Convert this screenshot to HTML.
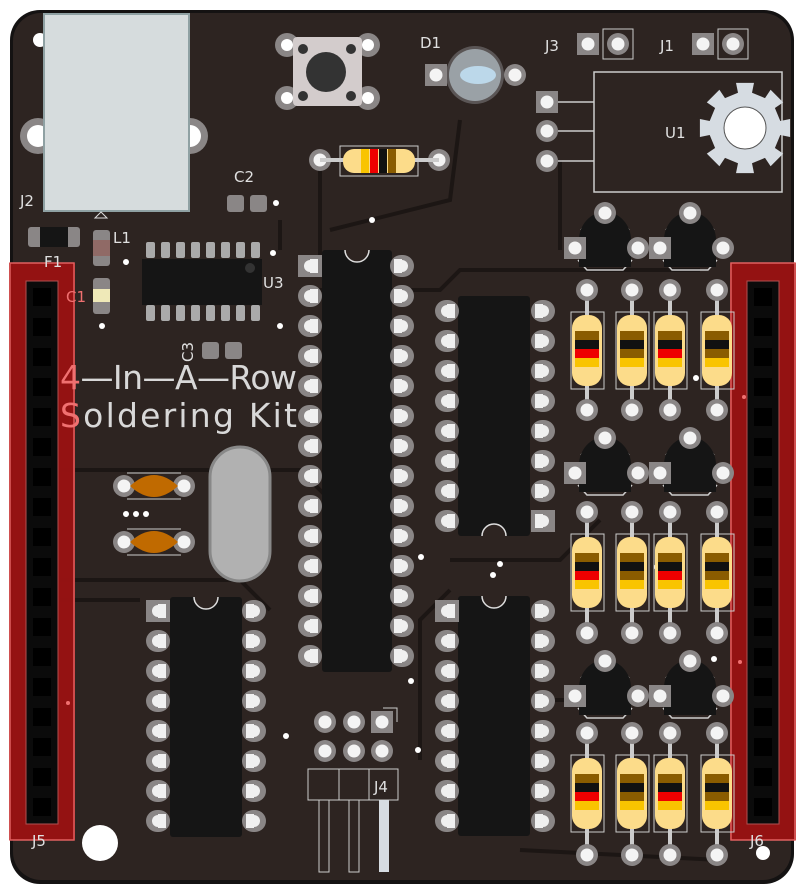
<!DOCTYPE html>
<html><head><meta charset="utf-8"><style>
html,body{margin:0;padding:0;background:#fff;}
svg{display:block;}
text{font-family:"DejaVu Sans","Liberation Sans",sans-serif;}
</style></head><body>
<svg id="s" width="804" height="894" viewBox="0 0 804 894" xmlns="http://www.w3.org/2000/svg">
<rect x="10" y="10" width="784" height="874" rx="30" fill="#141212"/>
<rect x="13" y="13" width="778" height="867" rx="28" fill="#2d2421"/>
<g id="g"></g>
<g fill="#e0e0e0" font-size="15">
<text x="20" y="206">J2</text>
<text x="44" y="267">F1</text>
<text x="113" y="243">L1</text>
<text x="66" y="302" fill="#f07070">C1</text>
<text x="234" y="182">C2</text>
<text x="263" y="288">U3</text>
<text x="193" y="362" transform="rotate(-90 193 362)">C3</text>
<text x="420" y="48">D1</text>
<text x="545" y="51">J3</text>
<text x="660" y="51">J1</text>
<text x="665" y="138">U1</text>
<text x="374" y="792">J4</text>
<text x="32" y="846">J5</text>
<text x="750" y="846">J6</text>
</g>
<g font-size="33" fill="#d8d8d8">
<text x="60" y="389" textLength="237"><tspan fill="#f07070">4</tspan>—In—A—Row</text>
<text x="60" y="427" textLength="237"><tspan fill="#f07070">S</tspan>oldering Kit</text>
</g>
</svg>
<script>
var o='';
function pad(x,y,sq){ if(sq) o+=`<rect x="${x-11}" y="${y-11}" width="22" height="22" fill="#8a8686"/>`; else o+=`<circle cx="${x}" cy="${y}" r="11" fill="#8a8686"/>`; o+=`<circle cx="${x}" cy="${y}" r="6.5" fill="#f4f4f4"/>`;}
function dpad(x,y,dir,sq){
 if(sq) o+=`<rect x="${x-12}" y="${y-11}" width="24" height="22" fill="#8a8686"/>`;
 else o+=`<rect x="${x-12}" y="${y-11}" width="24" height="22" rx="11" fill="#8a8686"/>`;
 o+=`<rect x="${dir>0?x:x-8}" y="${y-7}" width="8" height="14" fill="#f0f0f0"/><circle cx="${x}" cy="${y}" r="6" fill="#f0f0f0"/>`;}
function dip(x1,x2,y0,n,bx,bw,by,bh,notchTop){
 o+=`<rect x="${bx}" y="${by}" width="${bw}" height="${bh}" rx="3" fill="#151515"/>`;
 for(let i=0;i<n;i++){dpad(x1,y0+i*30,1,notchTop&&i==0);dpad(x2,y0+i*30,-1,!notchTop&&i==n-1);}
 let cx=bx+bw/2, ny=notchTop?by:by+bh;
 o+=`<path d="M${cx-12} ${ny} a12 12 0 0 ${notchTop?0:1} 24 0" fill="#2d2421" stroke="#ddd" stroke-width="1.5"/>`;
}
o+=`<g stroke="#1c1614" stroke-width="4" fill="none">
<path d="M60 470 L300 470 L330 500"/><path d="M60 580 L240 580 L270 610"/><path d="M60 600 L140 600"/>
<path d="M300 290 L440 290 L460 270 L700 270"/><path d="M450 560 L560 560 L600 520"/><path d="M420 760 L420 620 L450 590"/>
<path d="M540 700 L720 700"/><path d="M520 850 L720 860"/><path d="M460 120 L450 200 L330 230"/>
<path d="M560 160 L560 250"/><path d="M320 170 L320 260"/><path d="M280 250 L280 220"/>
</g>`;
o+=`<circle cx="38" cy="136" r="18" fill="#8a8686"/><circle cx="38" cy="136" r="11" fill="#fff"/>`;
o+=`<circle cx="190" cy="136" r="18" fill="#8a8686"/><circle cx="190" cy="136" r="11" fill="#fff"/>`;
o+=`<circle cx="40" cy="40" r="7" fill="#fff"/>`;
o+=`<rect x="44" y="14" width="145" height="197" fill="#d6dcdd" stroke="#8fa1a3" stroke-width="2"/>`;
o+=`<path d="M95 218 L101 212 L107 218 Z" fill="none" stroke="#ddd"/>`;
o+=`<rect x="28" y="227" width="52" height="20" rx="3" fill="#8a8686"/><rect x="40" y="227" width="28" height="20" fill="#151515"/>`;
o+=`<rect x="93" y="230" width="17" height="36" rx="3" fill="#8a8686"/><rect x="93" y="240" width="17" height="16" fill="#906a66"/>`;
o+=`<rect x="93" y="278" width="17" height="36" rx="3" fill="#8a8686"/><rect x="93" y="289" width="17" height="13" fill="#efe9b8"/>`;
o+=`<rect x="227" y="195" width="17" height="17" rx="3" fill="#8a8686"/><rect x="250" y="195" width="17" height="17" rx="3" fill="#8a8686"/>`;
o+=`<rect x="202" y="342" width="17" height="17" rx="3" fill="#8a8686"/><rect x="225" y="342" width="17" height="17" rx="3" fill="#8a8686"/>`;
for(let i=0;i<8;i++){let x=150+i*15;o+=`<rect x="${x-4}" y="242" width="9" height="16" rx="2" fill="#aaa"/><rect x="${x-4}" y="305" width="9" height="16" rx="2" fill="#aaa"/>`;}
o+=`<rect x="142" y="259" width="120" height="46" fill="#151515"/><circle cx="250" cy="268" r="5" fill="#333"/>`;
[[276,203],[126,262],[102,326],[372,220],[280,326],[273,253],[126,514],[136,514],[146,514],[421,557],[493,575],[500,564],[696,378],[657,567],[411,681],[286,736],[418,750],[714,659]].forEach(v=>o+=`<circle cx="${v[0]}" cy="${v[1]}" r="3" fill="#fff"/>`);
[[287,45],[368,45],[287,98],[368,98]].forEach(p=>{o+=`<circle cx="${p[0]}" cy="${p[1]}" r="12" fill="#8a8686"/><circle cx="${p[0]}" cy="${p[1]}" r="6" fill="#fff"/>`;});
o+=`<rect x="293" y="37" width="69" height="69" rx="4" fill="#d3cccc"/><circle cx="326" cy="72" r="20" fill="#333"/>`;
[[303,49],[351,49],[303,96],[351,96]].forEach(p=>o+=`<circle cx="${p[0]}" cy="${p[1]}" r="5" fill="#333"/>`);
o+=`<rect x="430" y="65" width="90" height="20" fill="#2d2421"/>`;
o+=`<circle cx="475" cy="75" r="29" fill="#5a5555"/><circle cx="475" cy="75" r="26" fill="#9aa1a6"/><ellipse cx="478" cy="75" rx="18" ry="9" fill="#bcd8ea"/>`;
pad(436,75,1);pad(515,75);
pad(320,160);pad(439,160);o+=`<line x1="320" y1="160" x2="439" y2="160" stroke="#ccc" stroke-width="4"/>`;
o+=`<rect x="340" y="146" width="78" height="30" fill="none" stroke="#ccc"/><rect x="343" y="149" width="72" height="24" rx="11" fill="#fcdc8a"/>`;
[[361,'#f9c400'],[370,'#e00'],[379,'#111'],[388,'#8a5c00']].forEach(b=>o+=`<rect x="${b[0]}" y="149" width="8" height="24" fill="${b[1]}"/>`);
pad(588,44,1);pad(618,44);o+=`<rect x="603" y="29" width="30" height="30" fill="none" stroke="#ccc"/>`;
pad(703,44,1);pad(733,44);o+=`<rect x="718" y="29" width="30" height="30" fill="none" stroke="#ccc"/>`;
o+=`<rect x="594" y="72" width="188" height="120" fill="none" stroke="#ccc" stroke-width="1.5"/>`;
pad(547,102,1);pad(547,131);pad(547,161);
[102,131,161].forEach(y=>o+=`<line x1="558" y1="${y}" x2="594" y2="${y}" stroke="#ccc" stroke-width="1.5"/>`);
let pts=[];for(let i=0;i<16;i++){let a0=i*Math.PI/8-Math.PI/16, a1=i*Math.PI/8+Math.PI/16, r=i%2?36:46;pts.push([745+r*Math.cos(a0),128+r*Math.sin(a0)]);pts.push([745+r*Math.cos(a1),128+r*Math.sin(a1)]);}
o+=`<polygon points="${pts.map(p=>p.map(v=>v.toFixed(1)).join(',')).join(' ')}" fill="#d6dce2"/><circle cx="745" cy="128" r="21" fill="#fff" stroke="#555"/>`;
function hdr(x){o+=`<rect x="${x}" y="263" width="66" height="577" fill="#9a1212" opacity="0.95"/><rect x="${x+1}" y="263" width="64" height="577" fill="none" stroke="#e06060" stroke-width="1.5"/>`;
 o+=`<rect x="${x+17}" y="281" width="32" height="543" fill="#0b0b0b" stroke="#b05050"/>`;
 for(let i=0;i<18;i++)o+=`<rect x="${x+24}" y="${288+i*30}" width="18" height="18" fill="#000"/>`;}
hdr(9);hdr(730);
dip(310,402,266,14,322,70,250,422,true);
dip(447,543,311,8,458,72,296,240,false);
dip(447,543,611,8,458,72,596,240,true);
dip(158,254,611,8,170,72,597,240,true);
o+=`<rect x="210" y="447" width="60" height="134" rx="30" fill="#b1b1b1" stroke="#888" stroke-width="3"/>`;
[486,542].forEach(y=>{pad(124,y);pad(184,y);o+=`<path d="M130 ${y} Q154 ${y-22} 178 ${y} Q154 ${y+22} 130 ${y}Z" fill="#c06a00"/><line x1="127" y1="${y-13}" x2="181" y2="${y-13}" stroke="#ccc"/><line x1="127" y1="${y+13}" x2="181" y2="${y+13}" stroke="#ccc"/>`;});
// transistors: dome body centred, flat bottom
[[605,240],[690,240],[605,465],[690,465],[605,688],[690,688]].forEach(t=>{let[x,y]=t;
 o+=`<path d="M${x-27} ${y+20} L${x-18} ${y+30} L${x+18} ${y+30} L${x+27} ${y+20}" fill="none" stroke="#ccc" stroke-width="1.5"/>`;
 o+=`<path d="M${x-24} ${y-10} A30 30 0 0 1 ${x+24} ${y-10}" fill="none" stroke="#ccc" stroke-width="1.5"/>`;
 o+=`<path d="M${x-26} ${y+27} L${x-26} ${y} A26 28 0 0 1 ${x+26} ${y} L${x+26} ${y+27}Z" fill="#151515"/>`;
 pad(x-30,y+8,1);pad(x+33,y+8);pad(x,y-27);});
[[290,410,312],[512,633,534],[733,855,755]].forEach(g=>{[587,632,670,717].forEach((x,j)=>{
 o+=`<line x1="${x}" y1="${g[0]}" x2="${x}" y2="${g[1]}" stroke="#ccc" stroke-width="4"/>`;pad(x,g[0]);pad(x,g[1]);
 o+=`<rect x="${x-16}" y="${g[2]}" width="33" height="77" fill="none" stroke="#ccc"/>`;
 o+=`<rect x="${x-15}" y="${g[2]+3}" width="30" height="71" rx="13" fill="#fcdc8a"/><rect x="${x-12}" y="${g[2]+16}" width="24" height="46" fill="#fcdc8a"/>`;
 let red=(j==0||j==2);[[19,'#8a5c00'],[28,'#111'],[37,red?'#e00':'#8a5c00'],[46,'#f9c400']].forEach(b=>o+=`<rect x="${x-12}" y="${g[2]+b[0]}" width="24" height="9" fill="${b[1]}"/>`);
});});
pad(325,722);pad(354,722);pad(382,722,1);pad(325,751);pad(354,751);pad(382,751);
o+=`<path d="M383 708 L397 708 L397 722" fill="none" stroke="#ccc"/>`;
o+=`<rect x="308" y="769" width="90" height="31" fill="none" stroke="#ccc"/><line x1="339" y1="769" x2="339" y2="800" stroke="#ccc"/><line x1="369" y1="769" x2="369" y2="800" stroke="#ccc"/>`;
o+=`<rect x="319" y="800" width="10" height="72" fill="none" stroke="#ccc"/><rect x="349" y="800" width="10" height="72" fill="none" stroke="#ccc"/><rect x="379" y="800" width="10" height="72" fill="#d6dce2"/>`;
o+=`<circle cx="100" cy="843" r="18" fill="#fff"/><circle cx="763" cy="853" r="7" fill="#fff"/>`;
o+=`<circle cx="68" cy="703" r="2" fill="#f07070"/><circle cx="744" cy="397" r="2" fill="#f07070"/><circle cx="740" cy="662" r="2" fill="#f07070"/>`;
document.getElementById('g').innerHTML=o;
</script>
</body></html>
